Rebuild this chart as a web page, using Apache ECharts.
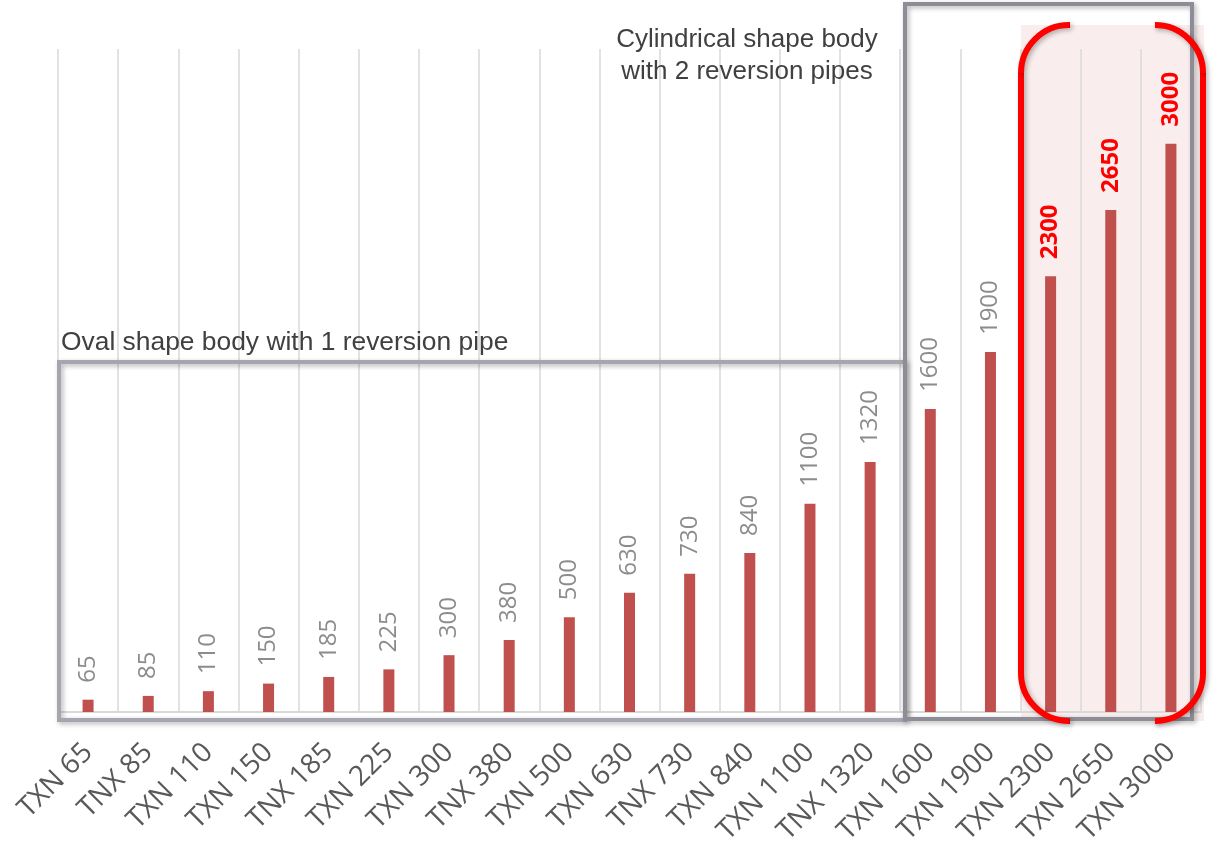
<!DOCTYPE html>
<html>
<head>
<meta charset="utf-8">
<script src="https://cdn.jsdelivr.net/npm/echarts@6/dist/echarts.min.js"></script>
<style>
html,body{margin:0;padding:0;background:#fff;}
#chart{width:1217px;height:848px;}
</style>
</head>
<body>
<div id="chart"></div>
<script>
var categories = ['TXN 65','TNX 85','TXN 110','TXN 150','TNX 185','TXN 225','TXN 300','TNX 380','TXN 500','TXN 630','TNX 730','TXN 840','TXN 1100','TNX 1320','TXN 1600','TXN 1900','TXN 2300','TXN 2650','TXN 3000'];
var capacities = [65,85,110,150,185,225,300,380,500,630,730,840,1100,1320,1600,1900,2300,2650,3000];
var highlighted = ['TXN 2300','TXN 2650','TXN 3000'];
var ovalNote = 'Oval shape body with 1 reversion pipe';
var cylNote = 'Cylindrical shape body\nwith 2 reversion pipes';

var chart = echarts.init(document.getElementById('chart'));

var seriesData = capacities.map(function (v, i) {
  var item = { value: v };
  if (highlighted.indexOf(categories[i]) >= 0) {
    item.label = { color: '#ff0000', fontWeight: 'bold' };
  }
  return item;
});

var boxColor = '#8d8d98';
function shadowed(style) {
  return Object.assign({ shadowBlur: 5, shadowColor: 'rgba(0,0,0,0.3)', shadowOffsetX: 2, shadowOffsetY: 2 }, style);
}

var PI = Math.PI;
function redStyle() { return shadowed({ fill: null, stroke: '#ff0000', lineWidth: 6, lineCap: 'butt' }); }
function bracketParts(xEdge, xEnd, yTop, yBot, r, dir) {
  var xc = xEdge + dir * r;
  var parts = [];
  parts.push({ type: 'line', z: 12, silent: true, shape: { x1: xEnd, y1: yTop, x2: xc, y2: yTop }, style: redStyle() });
  parts.push({ type: 'line', z: 12, silent: true, shape: { x1: xEdge, y1: yTop + r, x2: xEdge, y2: yBot - r }, style: redStyle() });
  parts.push({ type: 'line', z: 12, silent: true, shape: { x1: xc, y1: yBot, x2: xEnd, y2: yBot }, style: redStyle() });
  if (dir === 1) {
    parts.push({ type: 'arc', z: 12, silent: true, shape: { cx: xc, cy: yTop + r, r: r, startAngle: PI, endAngle: 1.5 * PI, clockwise: true }, style: redStyle() });
    parts.push({ type: 'arc', z: 12, silent: true, shape: { cx: xc, cy: yBot - r, r: r, startAngle: 0.5 * PI, endAngle: PI, clockwise: true }, style: redStyle() });
  } else {
    parts.push({ type: 'arc', z: 12, silent: true, shape: { cx: xc, cy: yTop + r, r: r, startAngle: 1.5 * PI, endAngle: 2 * PI, clockwise: true }, style: redStyle() });
    parts.push({ type: 'arc', z: 12, silent: true, shape: { cx: xc, cy: yBot - r, r: r, startAngle: 0, endAngle: 0.5 * PI, clockwise: true }, style: redStyle() });
  }
  return parts;
}

var graphics = [
  { type: 'rect', z: -10, silent: true,
    shape: { x: 1021, y: 25, width: 183, height: 696 },
    style: { fill: '#faeded' } },
  { type: 'rect', z: 10, silent: true,
    shape: { x: 59, y: 362, width: 846, height: 358 },
    style: shadowed({ fill: null, stroke: '#a6a6b0', lineWidth: 4 }) },
  { type: 'rect', z: 11, silent: true,
    shape: { x: 905, y: 4, width: 287, height: 715 },
    style: shadowed({ fill: null, stroke: boxColor, lineWidth: 4 }) },
  { type: 'text', z: 13, silent: true, x: 61, y: 343,
    style: { text: ovalNote, fill: '#404040', fontSize: 26.4, fontFamily: 'Liberation Sans',
      verticalAlign: 'middle', align: 'left' } },
  { type: 'text', z: 13, silent: true, x: 747, y: 56,
    style: { text: cylNote, fill: '#404040', fontSize: 26, lineHeight: 32, fontFamily: 'Liberation Sans',
      verticalAlign: 'middle', align: 'center' } }
].concat(bracketParts(1021, 1070, 25, 721, 48, 1), bracketParts(1203, 1157, 25, 721, 48, -1));

chart.setOption({
  backgroundColor: '#ffffff',
  animation: false,
  grid: { left: 58, right: 16, top: 49, bottom: 136, containLabel: false },
  xAxis: {
    type: 'category',
    data: categories,
    axisTick: { show: false },
    axisLine: { lineStyle: { color: '#d9d9d9', width: 2 } },
    splitLine: { show: true, interval: 0, lineStyle: { color: '#d9d9d9', width: 1.5 } },
    axisLabel: {
      interval: 0, rotate: 45, margin: 36,
      color: '#595959', fontSize: 28, fontFamily: 'Open Sans'
    }
  },
  yAxis: {
    type: 'value', min: 0, max: 3500, show: false,
    splitLine: { show: false }
  },
  series: [{
    type: 'bar',
    data: seriesData,
    barWidth: 11,
    z: 3,
    itemStyle: { color: '#c0504d' },
    label: {
      show: true, position: 'top', rotate: 90, align: 'left', verticalAlign: 'middle',
      distance: 17, color: '#8c8c8c', fontSize: 24, fontFamily: 'Open Sans'
    }
  }],
  graphic: graphics
});
</script>
</body>
</html>
